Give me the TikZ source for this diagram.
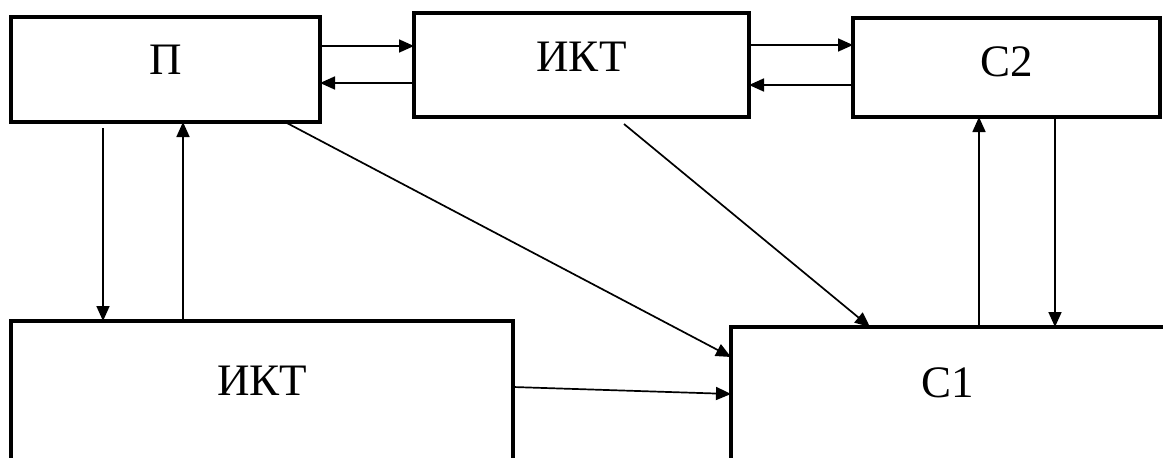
\documentclass[tikz,border=0pt]{standalone}
\usepackage{fontspec}
\setmainfont{Liberation Serif}
\usepackage{tikz}
\usetikzlibrary{arrows.meta,positioning}

\begin{document}
\begin{tikzpicture}[
  x=1pt,y=-1pt,
  box/.style={draw=black,line width=3.2pt,outer sep=0pt,inner sep=0pt,fill=white,text height=29pt,font=\fontsize{45}{50}\selectfont},
  arrow/.style={-{Triangle[length=15pt 0,width=13pt 0]},line width=1.7pt,draw=black}
]
  \useasboundingbox (0,0) rectangle (1163,458);
  \clip (0,0) rectangle (1163,458);
  % top row
  \node[box,minimum width=309pt,minimum height=105pt,text depth=19pt] (pdg) at (165.5,69.5) {П};
  \node[box,minimum width=335pt,minimum height=104pt,text depth=16pt] (ikttop) at (581.5,65) {ИКТ};
  \node[box,minimum width=307pt,minimum height=99pt,text depth=11pt] (stwo) at (1006.5,67.5) {С2};
  % bottom row
  \node[box,minimum width=502pt,minimum height=160pt,text depth=40pt] (iktbot) at (262,401) {ИКТ};
  \node[box,minimum width=434pt,minimum height=152pt,text depth=40pt] (sone) at (948,403) {С1};
  % connectors
  \draw[arrow] ([yshift=23.5pt]pdg.east) -- ([yshift=19pt]ikttop.west);
  \draw[arrow] ([yshift=-18pt]ikttop.west) -- ([yshift=-13.5pt]pdg.east);
  \draw[arrow] ([yshift=20pt]ikttop.east) -- ([yshift=22.5pt]stwo.west);
  \draw[arrow] ([yshift=-17.5pt]stwo.west) -- ([yshift=-20pt]ikttop.east);
  \draw[arrow] ([xshift=-62.5pt,yshift=-6pt]pdg.south) -- ([xshift=-159pt]iktbot.north);
  \draw[arrow] ([xshift=-79pt]iktbot.north) -- ([xshift=17.5pt]pdg.south);
  \draw[arrow] ([xshift=119.5pt]pdg.south) -- ([yshift=46pt]sone.west);
  \draw[arrow] ([yshift=14pt]iktbot.east) -- ([yshift=9pt]sone.west);
  \draw[arrow] ([xshift=42.5pt,yshift=-7pt]ikttop.south) -- ([xshift=-78pt]sone.north);
  \draw[arrow] ([xshift=31pt]sone.north) -- ([xshift=-27.5pt]stwo.south);
  \draw[arrow] ([xshift=48.5pt]stwo.south) -- ([xshift=107pt]sone.north);
\end{tikzpicture}
\end{document}
